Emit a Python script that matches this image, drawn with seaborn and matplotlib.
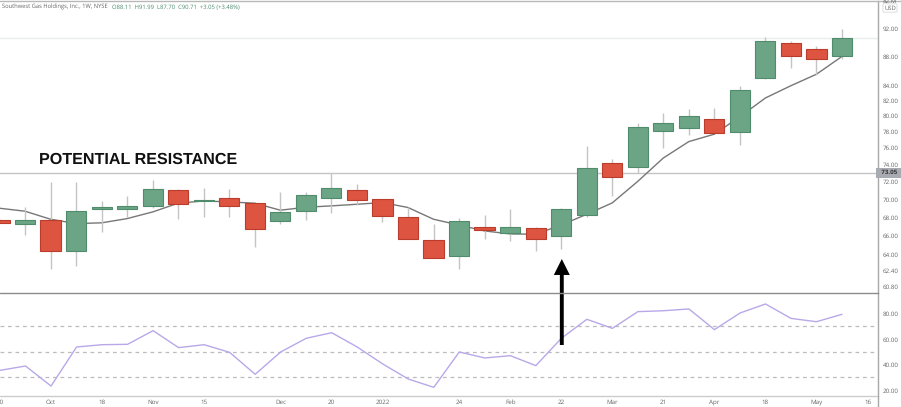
import matplotlib
matplotlib.use("Agg")
import matplotlib.pyplot as plt
from matplotlib.lines import Line2D
import seaborn as sns
import pandas as pd

# weekly candles
opens = [67.74, 67.29, 67.76, 64.45, 68.89, 68.86, 69.22, 71.09, 69.78, 70.15, 69.59, 67.61,
         68.70, 70.12, 71.00, 70.00, 68.03, 65.58, 63.93, 66.92, 66.28, 66.87, 66.00, 68.22,
         74.15, 73.68, 78.09, 78.46, 79.63, 77.96, 85.01, 90.00, 89.14, 88.11]
highs = [67.90, 69.14, 71.96, 71.96, 69.81, 70.35, 72.15, 71.15, 71.26, 71.14, 69.65, 70.79,
         70.86, 73.02, 71.73, 70.05, 69.14, 67.26, 67.93, 68.30, 68.86, 66.92, 68.97, 76.25,
         74.70, 79.16, 80.36, 80.90, 81.10, 83.90, 90.76, 90.19, 89.47, 91.99]
lows = [67.30, 66.10, 62.60, 62.93, 66.45, 68.03, 68.97, 67.86, 68.03, 68.03, 64.87, 67.26,
        67.76, 68.52, 69.33, 67.51, 65.65, 63.67, 62.60, 65.65, 65.47, 64.42, 64.60, 68.03,
        70.35, 73.02, 76.04, 77.63, 77.88, 76.34, 84.90, 86.44, 85.47, 87.70]
closes = [67.40, 67.68, 64.38, 68.74, 69.11, 69.22, 71.14, 69.48, 69.89, 69.22, 66.70, 68.63,
          70.43, 71.26, 69.97, 68.14, 65.68, 63.73, 67.58, 66.66, 66.92, 65.68, 68.92, 73.61,
          72.55, 78.59, 79.09, 79.96, 77.91, 83.47, 90.29, 88.04, 87.63, 90.71]
moving_avg = [69.00, 68.67, 67.79, 67.32, 67.40, 67.86, 68.59, 69.56, 69.81, 69.70, 69.56, 68.78,
              69.11, 69.26, 69.44, 69.63, 69.08, 67.79, 67.16, 66.53, 66.21, 66.18, 67.16, 68.33,
              69.59, 72.04, 74.79, 76.79, 77.71, 79.91, 82.36, 84.00, 85.56, 88.04]
rsi = [35.6, 39.0, 23.3, 53.9, 55.7, 56.0, 66.7, 53.4, 55.7, 49.7, 32.5, 50.0,
       60.7, 65.1, 53.9, 40.6, 28.8, 22.3, 50.0, 45.3, 47.1, 39.3, 60.7, 75.6,
       68.5, 81.6, 82.3, 83.7, 67.5, 80.5, 87.6, 76.3, 73.7, 79.5]

x_tick_pos = [0, 2, 4, 6, 8, 11, 13, 15, 18, 20, 22, 24, 26, 28, 30, 32, 34]
x_tick_labels = ["20", "Oct", "18", "Nov", "15", "Dec", "20", "2022", "24", "Feb", "22", "Mar",
                 "21", "Apr", "18", "May", "16"]
price_ticks = [92, 88, 84, 82, 80, 78, 76, 74, 72, 70, 68, 66, 64, 62.4, 60.8]
rsi_ticks = [80, 60, 40, 20]
rsi_levels = [70, 50, 30]
resistance = 73.05
last_close = 90.71

W, H = 901, 407
GREEN, GREEN_EDGE = "#6BA585", "#4E8C6B"
RED, RED_EDGE = "#DD5440", "#B93C2C"
TICK_GREY = "#666666"
TICK_SIZE = 4.5

sns.set_theme(style="white", rc={"font.family": "Open Sans", "font.size": 5, "text.hinting": "none"})

df = pd.DataFrame({"week": range(len(closes)), "open": opens, "high": highs, "low": lows,
                   "close": closes, "ma": moving_avg, "rsi": rsi})
up = df[df["close"] >= df["open"]]
down = df[df["close"] < df["open"]]

fig = plt.figure(figsize=(W / 100, H / 100), dpi=100)
ax = fig.add_axes([0, (H - 293) / H, 878 / W, 292.5 / H])
ax2 = fig.add_axes([0, (H - 396) / H, 878 / W, 103 / H])

# price panel
ax.set_yscale("log")
ax.axhline(resistance, color="#c4c4c4", lw=1, zorder=1)
ax.axhline(last_close, color="#e6eeea", lw=1, zorder=1)
sns.lineplot(data=df, x="week", y="ma", color="#777777", lw=1, ax=ax, zorder=2)
ax.vlines(df["week"], df["low"], df["high"], color="#c4c4c4", lw=1, zorder=3)
ax.bar(up["week"], up["close"] - up["open"], bottom=up["open"], width=0.79,
       color=GREEN, edgecolor=GREEN_EDGE, lw=0.8, zorder=4)
ax.bar(down["week"], down["close"] - down["open"], bottom=down["open"], width=0.79,
       color=RED, edgecolor=RED_EDGE, lw=0.8, zorder=4)
ax.set_xlim(0.02, 34.41)
ax.set_ylim(60.22, 96.31)
ax.set_yticks(price_ticks, labels=[f"{t:.2f}" for t in price_ticks])
ax.minorticks_off()
ax.set_xticks([])
ax.set_xlabel("")
ax.set_ylabel("")

# rsi panel
for level in rsi_levels:
    ax2.axhline(level, color="#bcbcbc", lw=0.9, ls=(0, (3, 3)), zorder=1)
sns.lineplot(data=df, x="week", y="rsi", color="#B9A8E8", lw=1, ax=ax2, zorder=2)
ax2.set_xlim(0.02, 34.41)
ax2.set_ylim(15.5, 96.2)
ax2.set_yticks(rsi_ticks, labels=[f"{t:.2f}" for t in rsi_ticks])
ax2.set_xticks(x_tick_pos, labels=x_tick_labels)
ax2.set_xlabel("")
ax2.set_ylabel("")

for a in (ax, ax2):
    a.yaxis.tick_right()
    a.tick_params(axis="y", length=0, pad=3.5, labelsize=TICK_SIZE, labelcolor=TICK_GREY)
    a.tick_params(axis="x", length=0, pad=2.5, labelsize=TICK_SIZE, labelcolor=TICK_GREY)
    for side in ("left", "top", "bottom"):
        a.spines[side].set_visible(False)
    a.spines["right"].set_color("#a8a8a8")
    a.spines["right"].set_linewidth(1)

# panel frames
fig.add_artist(Line2D([0, 878 / W], [1 - 293.3 / H] * 2, color="#8c8c8c", lw=1))
fig.add_artist(Line2D([0, 878 / W], [1 - 396 / H] * 2, color="#cccccc", lw=1))
fig.add_artist(Line2D([0, 1], [1 - 0.5 / H] * 2, color="#b8b8b8", lw=1))
fig.add_artist(Line2D([878 / W] * 2, [0, 1 - 396 / H], color="#a8a8a8", lw=1))

# header and axis badges
fig.text(2 / W, 1 - 7.5 / H, "Southwest Gas Holdings, Inc., 1W, NYSE", color="#666666",
         fontsize=4.15, va="center")
fig.text(112 / W, 1 - 7.5 / H, "O88.11  H91.99  L87.70  C90.71  +3.05 (+3.48%)", color="#4E8C6B",
         fontsize=4.2, va="center")
fig.text(890 / W, 1 - 1.5 / H, "82.M", color=TICK_GREY, fontsize=TICK_SIZE, ha="center", va="center")
fig.text(890 / W, 1 - 8 / H, "USD", color=TICK_GREY, fontsize=4.2, ha="center", va="center",
         bbox=dict(boxstyle="round,pad=0.2", fc="white", ec="#d8d8d8", lw=0.6))
ax.text(1.0, resistance, "  73.05  ", transform=ax.get_yaxis_transform(), color="#333333",
        fontsize=TICK_SIZE, fontweight="bold", va="center", ha="left",
        bbox=dict(boxstyle="square,pad=0.3", fc="#a9abb3", ec="none"))

# annotations
fig.text(39 / W, 1 - 160 / H, "POTENTIAL RESISTANCE", color="#111111", fontsize=11.6,
         fontweight="bold", family="Liberation Sans", va="center")
ax2.annotate("", xy=(561.8 / W, 1 - 259 / H), xytext=(561.8 / W, 1 - 345 / H),
             xycoords="figure fraction", textcoords="figure fraction", annotation_clip=False,
             arrowprops=dict(facecolor="black", edgecolor="black", width=2.8, headwidth=11.5,
                             headlength=11.5, shrink=0, lw=0))

fig.savefig("out.png", dpi=100)
